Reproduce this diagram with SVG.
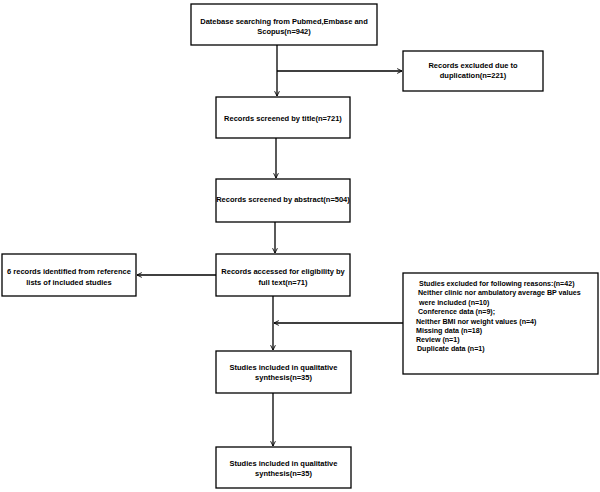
<svg xmlns="http://www.w3.org/2000/svg" width="600" height="492" viewBox="0 0 600 492">
<defs>
<marker id="arr" viewBox="0 0 10 10" refX="9" refY="5" markerWidth="6" markerHeight="6" orient="auto" markerUnits="userSpaceOnUse">
<path d="M1,1 L9,5 L1,9" fill="none" stroke="#000" stroke-width="1.5"/>
</marker>
<style>
.b{fill:#fff;stroke:#000;stroke-width:1.3}
.t{font-family:"Liberation Sans",Arial,sans-serif;font-size:7.5px;font-weight:bold;fill:#000}
.s{font-size:7.1px}
.c{text-anchor:middle}
.l{fill:none;stroke:#000;stroke-width:1.3}
</style>
</defs>
<rect width="600" height="492" fill="#fff"/>
<g id="connectors">
<line class="l" x1="277" y1="45" x2="277" y2="96" marker-end="url(#arr)"/>
<line class="l" x1="277" y1="71" x2="402" y2="71" marker-end="url(#arr)"/>
<line class="l" x1="276" y1="138" x2="276" y2="178" marker-end="url(#arr)"/>
<line class="l" x1="275" y1="222" x2="275" y2="253" marker-end="url(#arr)"/>
<line class="l" x1="216" y1="275" x2="137" y2="275" marker-end="url(#arr)"/>
<line class="l" x1="273" y1="296" x2="273" y2="350" marker-end="url(#arr)"/>
<line class="l" x1="403" y1="323" x2="274" y2="323" marker-end="url(#arr)"/>
<line class="l" x1="273" y1="393" x2="273" y2="446" marker-end="url(#arr)"/>
</g>
<g id="n1">
<rect class="b" x="191" y="4" width="186" height="41"/>
<text class="t c" x="284" y="24">Datebase searching from Pubmed,Embase and</text>
<text class="t c" x="284" y="34">Scopus(n=942)</text>
</g>
<g id="n2">
<rect class="b" x="403" y="51" width="140" height="40"/>
<text class="t c" x="473" y="68">Records excluded due to</text>
<text class="t c" x="473" y="78">duplication(n=221)</text>
</g>
<g id="n3">
<rect class="b" x="216" y="97" width="134" height="41"/>
<text class="t c" x="283" y="120.5">Records screened by title(n=721)</text>
</g>
<g id="n4">
<rect class="b" x="216" y="179" width="134" height="43"/>
<text class="t c" x="283" y="201.5">Records screened by abstract(n=504)</text>
</g>
<g id="n5">
<rect class="b" x="216" y="254" width="134" height="42"/>
<text class="t c" x="283" y="274">Records accessed for eligibility by</text>
<text class="t c" x="283" y="285">full  text(n=71)</text>
</g>
<g id="n6">
<rect class="b" x="2" y="254" width="134" height="42"/>
<text class="t c" x="69" y="274">6 records identified from reference</text>
<text class="t c" x="69" y="285">lists of included studies</text>
</g>
<g id="n7">
<rect class="b" x="403" y="273" width="195" height="101"/>
<text class="t s" x="419" y="285.5">Studies excluded for following reasons:(n=42)</text>
<text class="t s" x="418" y="295">Neither clinic nor ambulatory average BP values</text>
<text class="t s" x="419" y="304.5">were included (n=10)</text>
<text class="t s" x="418" y="314">Conference data (n=9);</text>
<text class="t s" x="416" y="324">Neither BMI nor weight values (n=4)</text>
<text class="t s" x="416" y="333">Missing data (n=18)</text>
<text class="t s" x="416" y="342">Review (n=1)</text>
<text class="t s" x="417" y="351">Duplicate data (n=1)</text>
</g>
<g id="n8">
<rect class="b" x="216" y="351" width="135" height="42"/>
<text class="t c" x="283.5" y="369.5">Studies included in qualitative</text>
<text class="t c" x="283.5" y="379.5">synthesis(n=35)</text>
</g>
<g id="n9">
<rect class="b" x="216" y="447" width="135" height="41"/>
<text class="t c" x="283.5" y="465.5">Studies included in qualitative</text>
<text class="t c" x="283.5" y="475.5">synthesis(n=35)</text>
</g>
</svg>
